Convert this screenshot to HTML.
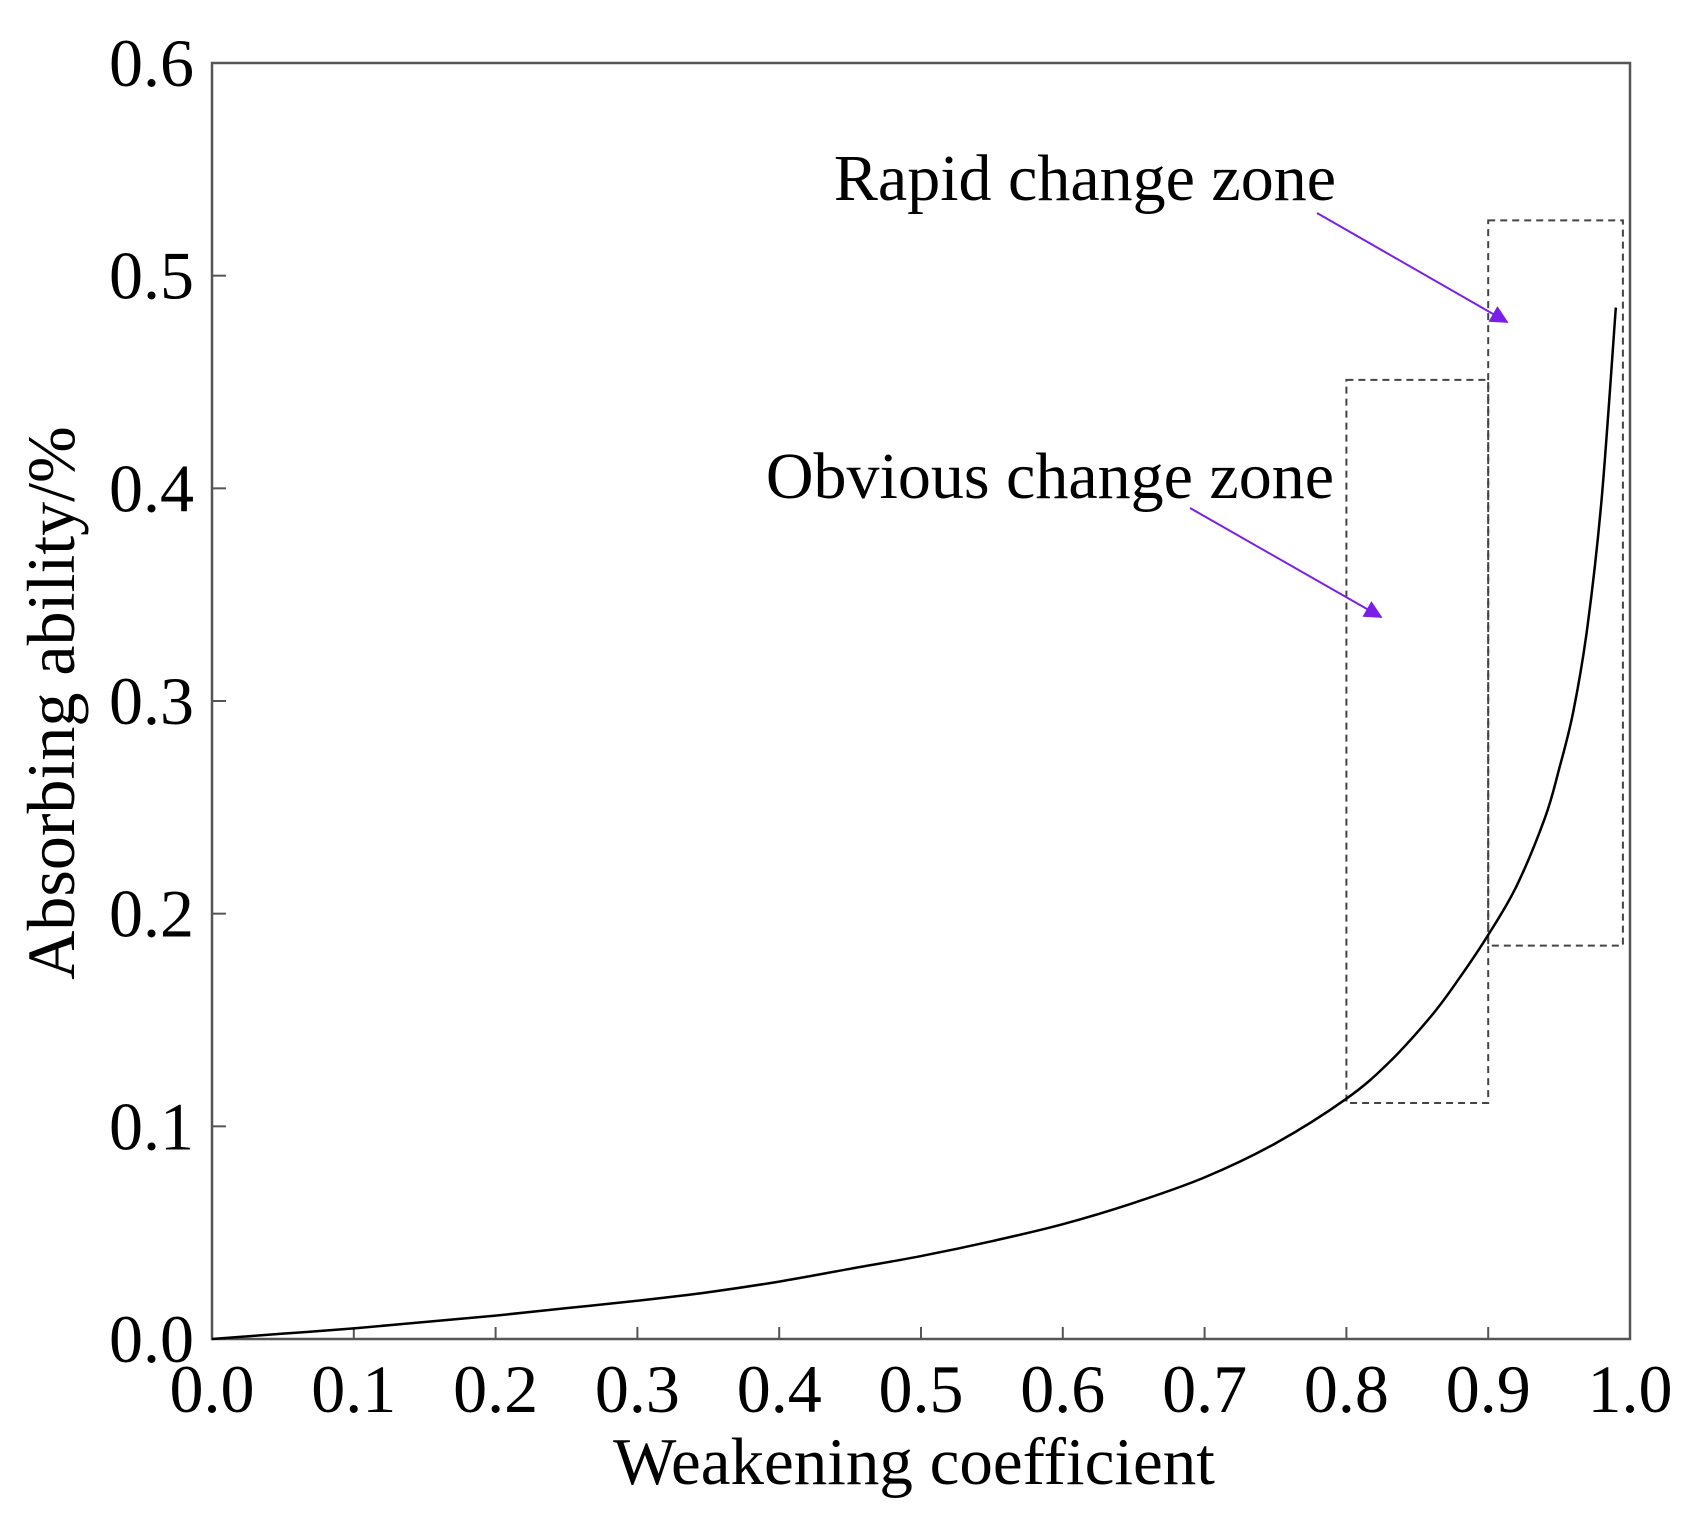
<!DOCTYPE html>
<html><head><meta charset="utf-8"><style>
html,body{margin:0;padding:0;background:#fff;}
svg{display:block;font-family:"Liberation Serif",serif;}
</style></head><body>
<svg id="chart" width="1695" height="1539" viewBox="0 0 1695 1539">
<defs><marker id="ah" viewBox="0 0 10 10" refX="9" refY="5" markerWidth="34" markerHeight="18" orient="auto-start-reverse" markerUnits="userSpaceOnUse"><path d="M0,0 L10,5 L0,10 z" fill="#7b1fe8"/></marker></defs>
<g id="axes"></g>
<g id="marks"></g>
<text x="914" y="1484" font-size="67" text-anchor="middle">Weakening coefficient</text>
<text transform="translate(74,703) rotate(-90)" font-size="68" text-anchor="middle">Absorbing ability/%</text>
<text x="1336" y="200" font-size="66" text-anchor="end">Rapid change zone</text>
<text x="1334" y="498" font-size="66" text-anchor="end">Obvious change zone</text>
<line x1="1317" y1="213" x2="1507" y2="322" stroke="#7b1fe8" stroke-width="2" marker-end="url(#ah)"/>
<line x1="1190" y1="508" x2="1381" y2="617" stroke="#7b1fe8" stroke-width="2" marker-end="url(#ah)"/>
</svg>
<script>
const xTicks=[0,0.1,0.2,0.3,0.4,0.5,0.6,0.7,0.8,0.9,1.0];
const yTicks=[0,0.1,0.2,0.3,0.4,0.5,0.6];
const curveX=[0,0.05,0.1,0.15,0.2,0.25,0.3,0.35,0.4,0.45,0.5,0.55,0.6,0.65,0.7,0.75,0.8,0.83,0.86,0.88,0.9,0.92,0.94,0.95,0.96,0.97,0.98,0.99];
const curveY=[0,0.0025,0.005,0.008,0.011,0.0145,0.018,0.022,0.027,0.033,0.039,0.046,0.054,0.064,0.076,0.092,0.113,0.13,0.152,0.17,0.19,0.213,0.245,0.268,0.295,0.335,0.395,0.485];
const obviousZone=[0.8,0.9,0.111,0.451];
const rapidZone=[0.9,0.995,0.185,0.526];
const X0=212,X1=1630,Y0=1339,Y1=63;
const sx=v=>X0+(X1-X0)*v;
const sy=v=>Y0-(Y0-Y1)*v/0.6;
const NS='http://www.w3.org/2000/svg';
function mk(tag,attrs,parent){const e=document.createElementNS(NS,tag);for(const k in attrs)e.setAttribute(k,attrs[k]);parent.appendChild(e);return e;}
const ax=document.getElementById('axes'),mg=document.getElementById('marks');
const frame=mk('rect',{x:X0,y:Y1,width:X1-X0,height:Y0-Y1,fill:'none',stroke:'#555','stroke-width':2.5},ax);


xTicks.forEach(t=>{
 const l=mk('line',{x1:sx(t),x2:sx(t),y1:Y0,y2:Y0-12,stroke:'#555','stroke-width':2},ax);
 
 
 const tx=mk('text',{x:sx(t),y:1412,'font-size':68,'text-anchor':'middle'},ax);
 tx.textContent=t.toFixed(1);
 
 
});
yTicks.forEach(t=>{
 const l=mk('line',{x1:X0,x2:X0+14,y1:sy(t),y2:sy(t),stroke:'#555','stroke-width':2},ax);
 
 
 const tx=mk('text',{x:194,y:sy(t)+23,'font-size':68,'text-anchor':'end'},ax);
 tx.textContent=t.toFixed(1);
 
 
});
function zone(z,name){
 const r=mk('rect',{x:sx(z[0]),y:sy(z[3]),width:sx(z[1])-sx(z[0]),height:sy(z[2])-sy(z[3]),fill:'none',stroke:'#444','stroke-width':2,'stroke-dasharray':'7,5'},mg);
 
 
}
zone(obviousZone,'obvious-change-zone-box');
zone(rapidZone,'rapid-change-zone-box');
const pts=curveX.map((x,i)=>[sx(x),sy(curveY[i])]);
let d='M'+pts[0][0]+','+pts[0][1];
for(let i=0;i<pts.length-1;i++){
 const p0=pts[Math.max(i-1,0)],p1=pts[i],p2=pts[i+1],p3=pts[Math.min(i+2,pts.length-1)];
 const c1=[p1[0]+(p2[0]-p0[0])/6,p1[1]+(p2[1]-p0[1])/6],c2=[p2[0]-(p3[0]-p1[0])/6,p2[1]-(p3[1]-p1[1])/6];
 d+=` C${c1[0]},${c1[1]} ${c2[0]},${c2[1]} ${p2[0]},${p2[1]}`;
}
const c=mk('path',{d:d,fill:'none',stroke:'#000','stroke-width':2.5},mg);


</script>
</body></html>
